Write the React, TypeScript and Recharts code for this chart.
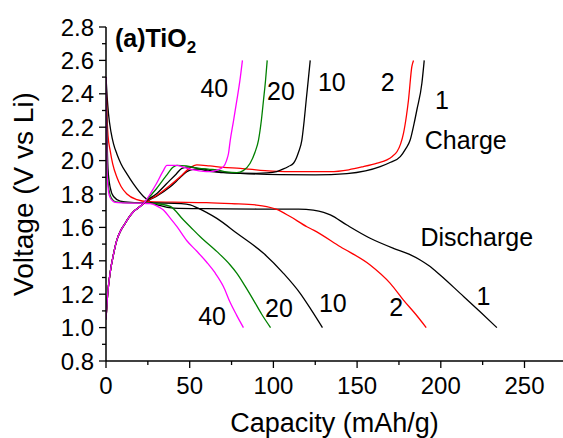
import React from 'react';
import { LineChart, Line, XAxis, YAxis, ReferenceDot } from 'recharts';

type P = [number, number];

// ---- Discharge curves (capacity mAh/g, voltage V) ----
const discharge1: P[] = [[0,2.5],[0.7,2.38],[1.5,2.28],[3,2.17],[4.5,2.1],[6.5,2.04],[9,1.98],[12.5,1.92],[16.4,1.86],[22.4,1.785],[27,1.75],[31.4,1.733],[40.3,1.716],[60,1.712],[90,1.71],[115,1.709],[123.8,1.703],[130,1.69],[134,1.675],[143.9,1.614],[157.8,1.535],[171.7,1.475],[181,1.44],[187.7,1.405],[193,1.37],[199.6,1.315],[211.6,1.205],[223.5,1.095],[233.5,1.0]];
const discharge2: P[] = [[0,2.5],[0.5,2.3],[1.2,2.15],[2.5,2.06],[4,1.98],[6.5,1.9],[9,1.845],[12.5,1.8],[18.5,1.766],[25,1.754],[40,1.751],[60,1.748],[75,1.742],[90,1.734],[96,1.725],[102,1.708],[110,1.665],[120,1.604],[124,1.584],[140,1.484],[157.8,1.375],[169.8,1.265],[177.7,1.165],[185,1.08],[191.3,1.0]];
const discharge10: P[] = [[0,2.5],[0.5,2.2],[1.2,1.95],[2.5,1.84],[4.5,1.785],[8.5,1.758],[15,1.75],[30,1.746],[45,1.742],[50.3,1.735],[55,1.715],[60,1.69],[66.2,1.654],[78.2,1.565],[94.1,1.445],[106,1.325],[116,1.205],[123,1.1],[129.3,1.0]];
const discharge20: P[] = [[0,2.5],[0.4,2.2],[0.8,1.95],[1.6,1.84],[2.6,1.79],[4,1.765],[6,1.752],[10,1.749],[25,1.745],[32,1.74],[38.4,1.726],[46.3,1.644],[50.3,1.604],[56.3,1.544],[66.3,1.455],[74.2,1.375],[78.2,1.325],[83,1.25],[88.1,1.165],[93,1.08],[98.3,1.0]];
const discharge40: P[] = [[0,2.5],[0.3,2.2],[0.6,1.95],[1.2,1.84],[2,1.79],[3.5,1.763],[5.5,1.75],[10,1.747],[20,1.745],[26.4,1.742],[30,1.73],[34.3,1.704],[38,1.66],[42.4,1.604],[48.3,1.52],[54,1.46],[60.3,1.39],[65,1.33],[70.2,1.245],[74.2,1.15],[78,1.075],[82.1,1.0]];

// ---- Charge curves ----
const charge1: P[] = [[0,1.05],[1,1.2],[2.5,1.33],[4.5,1.44],[6.5,1.525],[9,1.585],[11.5,1.625],[14,1.665],[16.4,1.694],[19,1.715],[21.4,1.734],[23.4,1.752],[30,1.785],[38,1.84],[44,1.895],[48.3,1.934],[52,1.948],[57,1.95],[65,1.935],[80.2,1.924],[104,1.916],[125,1.915],[143.9,1.922],[155,1.938],[163.8,1.964],[170,1.99],[175.8,2.024],[179,2.07],[181.7,2.123],[184,2.22],[185.7,2.303],[188.7,2.463],[190.1,2.6]];
const charge2: P[] = [[0,1.05],[1,1.2],[2.5,1.33],[4.5,1.44],[6.5,1.525],[9,1.585],[11.5,1.625],[14,1.665],[16.4,1.694],[19,1.715],[21.4,1.734],[23.4,1.752],[30,1.79],[38,1.85],[45,1.91],[50,1.955],[54.3,1.974],[62,1.968],[70,1.96],[80.2,1.954],[95,1.94],[110,1.934],[133.8,1.934],[145,1.945],[153.8,1.964],[162,1.985],[167.8,2.004],[171,2.025],[173.8,2.053],[176,2.1],[177.7,2.163],[179.5,2.27],[180.7,2.363],[182.7,2.563],[183.7,2.6]];
const charge10: P[] = [[0,1.05],[1,1.2],[2.5,1.33],[4.5,1.44],[6.5,1.525],[9,1.585],[11.5,1.625],[14,1.665],[16.4,1.694],[19,1.715],[21.4,1.734],[23.4,1.755],[30,1.8],[36,1.86],[42,1.92],[45.3,1.954],[50,1.962],[55,1.952],[62,1.935],[70,1.928],[80,1.925],[90,1.924],[96,1.926],[102,1.934],[106,1.95],[109,1.965],[112,1.984],[115,2.05],[117,2.123],[118.4,2.24],[119.6,2.363],[120.8,2.48],[122,2.6]];
const charge20: P[] = [[0,1.05],[1,1.2],[2.5,1.33],[4.5,1.44],[6.5,1.525],[9,1.585],[11.5,1.625],[14,1.665],[16.4,1.694],[19,1.715],[21.4,1.734],[23.4,1.755],[30,1.83],[36,1.91],[40,1.96],[42.4,1.972],[48,1.968],[55,1.955],[62,1.948],[66.2,1.944],[72,1.932],[78.2,1.928],[82,1.94],[86.1,1.984],[89,2.05],[91.1,2.123],[92.8,2.24],[94.1,2.363],[95.3,2.48],[96.3,2.6]];
const charge40: P[] = [[0,1.05],[1,1.2],[2.5,1.33],[4.5,1.44],[6.5,1.525],[9,1.585],[11.5,1.625],[14,1.665],[16.4,1.694],[19,1.715],[21.4,1.734],[23.4,1.755],[27,1.81],[30,1.86],[34,1.935],[36.4,1.972],[42,1.972],[47,1.958],[52.3,1.944],[58,1.935],[62.2,1.934],[66,1.942],[70.2,1.964],[72,2.0],[73.2,2.044],[74.2,2.12],[76.2,2.24],[78.2,2.363],[80,2.48],[81.5,2.6]];

// ---- Ticks ----
const xTicks = [0, 25, 50, 75, 100, 125, 150, 175, 200, 225, 250];
const yTicks = [0.8, 0.9, 1.0, 1.1, 1.2, 1.3, 1.4, 1.5, 1.6, 1.7, 1.8, 1.9, 2.0, 2.1, 2.2, 2.3, 2.4, 2.5, 2.6, 2.7, 2.8];

// ---- Annotations (text, capacity, voltage) ----
const chargeLabels: [string, number, number][] = [['40',64.7,2.433],['20',104.5,2.418],['10',134.9,2.472],['2',168.3,2.472],['1',200.7,2.361]];
const dischargeLabels: [string, number, number][] = [['40',63.4,1.071],['20',103.3,1.116],['10',135.5,1.147],['2',173.4,1.12],['1',225.5,1.19]];
const sectionLabels: [string, number, number][] = [['Charge',214.9,2.123],['Discharge',221.5,1.544]];

const FONT = 'Liberation Sans, Arial, sans-serif';

const toData = (pts: P[]) => pts.map(([c, v]) => ({ c, v }));

const series = [
  { key: 'd1', data: discharge1, color: '#000000' },
  { key: 'd2', data: discharge2, color: '#ff0000' },
  { key: 'd10', data: discharge10, color: '#000000' },
  { key: 'd20', data: discharge20, color: '#008000' },
  { key: 'd40', data: discharge40, color: '#ff00ff' },
  { key: 'c1', data: charge1, color: '#000000' },
  { key: 'c2', data: charge2, color: '#ff0000' },
  { key: 'c10', data: charge10, color: '#000000' },
  { key: 'c20', data: charge20, color: '#008000' },
  { key: 'c40', data: charge40, color: '#ff00ff' },
];

const YTick = (props: any) => {
  const { x, y, payload } = props;
  const v = payload.value as number;
  const major = Math.round(v * 10) % 2 === 0;
  return (
    <g>
      <line x1={x} y1={y} x2={x - (major ? 7 : 4)} y2={y} stroke="#000" strokeWidth={1.3} />
      {major && (
        <text x={x - 12} y={y} dy={8.5} textAnchor="end" fontSize={24} fontFamily={FONT} fill="#000">
          {v.toFixed(1)}
        </text>
      )}
    </g>
  );
};

const XTick = (props: any) => {
  const { x, y, payload } = props;
  const v = payload.value as number;
  const major = v % 50 === 0;
  return (
    <g>
      <line x1={x} y1={y} x2={x} y2={y + (major ? 7 : 4)} stroke="#000" strokeWidth={1.3} />
      {major && (
        <text x={x} y={y + 33} textAnchor="middle" fontSize={24} fontFamily={FONT} fill="#000">
          {v}
        </text>
      )}
    </g>
  );
};

const W = 563;
const H = 438;

export default function App() {
  const annos = [...chargeLabels, ...dischargeLabels, ...sectionLabels];
  return (
    <div style={{ position: 'absolute', left: 0, top: 0, width: W, height: H, background: '#fff' }}>
      <LineChart width={W} height={H} margin={{ top: 27, right: 0, bottom: 0, left: 0 }}>
        <XAxis
          type="number"
          dataKey="c"
          domain={[0, 273]}
          ticks={xTicks}
          interval={0}
          allowDataOverflow
          height={77}
          tickSize={0}
          tickMargin={0}
          tickLine={false}
          tick={<XTick />}
          axisLine={{ stroke: '#000', strokeWidth: 1.5 }}
        />
        <YAxis
          type="number"
          dataKey="v"
          domain={[0.8, 2.8]}
          ticks={yTicks}
          interval={0}
          allowDataOverflow
          width={106}
          tickSize={0}
          tickMargin={0}
          tickLine={false}
          tick={<YTick />}
          axisLine={{ stroke: '#000', strokeWidth: 1.5 }}
        />
        {series.map((s) => (
          <Line
            key={s.key}
            data={toData(s.data)}
            dataKey="v"
            type="monotone"
            stroke={s.color}
            strokeWidth={1.3}
            dot={false}
            activeDot={false}
            isAnimationActive={false}
          />
        ))}
        {annos.map(([t, x, y], i) => (
          <ReferenceDot
            key={'a' + i}
            x={x}
            y={y}
            r={0}
            fill="none"
            stroke="none"
            label={{ value: t, position: 'center', fontSize: 25, fill: '#000', fontFamily: FONT }}
          />
        ))}
      </LineChart>
      <svg width={W} height={H} style={{ position: 'absolute', left: 0, top: 0, pointerEvents: 'none' }}>
        <text x={115} y={46.7} fontSize={25} fontWeight="bold" fontFamily={FONT} fill="#000">
          (a)TiO<tspan fontSize={17} dy={6.5}>2</tspan>
        </text>
        <text x={334.5} y={432} textAnchor="middle" fontSize={27} fontFamily={FONT} fill="#000">
          Capacity (mAh/g)
        </text>
        <text x={33} y={194} transform="rotate(-90 33 194)" textAnchor="middle" fontSize={28} fontFamily={FONT} fill="#000">
          Voltage (V vs Li)
        </text>
      </svg>
    </div>
  );
}
